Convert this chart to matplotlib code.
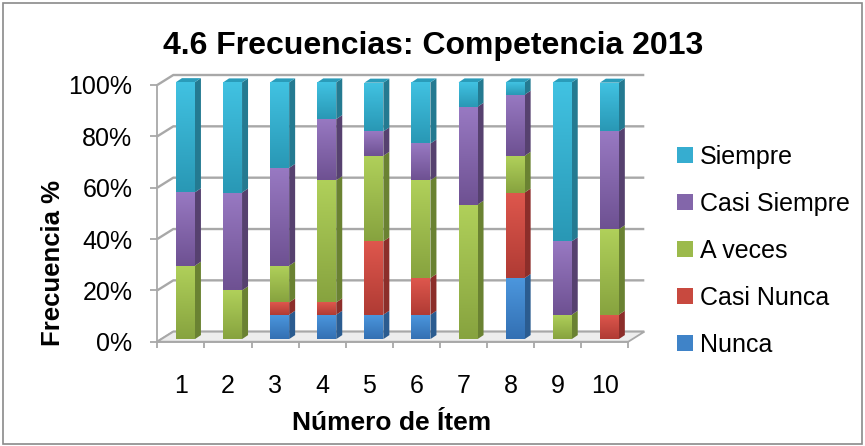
import numpy as np
import matplotlib.pyplot as plt
from matplotlib.patches import Polygon, Patch, Rectangle
from matplotlib.colors import LinearSegmentedColormap
from matplotlib.transforms import ScaledTranslation

plt.rcParams['font.family'] = ['Liberation Sans', 'DejaVu Sans']

# porcentaje de respuestas por ítem
items = ['1', '2', '3', '4', '5', '6', '7', '8', '9', '10']
series = ['Nunca', 'Casi Nunca', 'A veces', 'Casi Siempre', 'Siempre']
nunca = [0, 0, 9.5, 9.5, 9.5, 9.5, 0, 23.8, 0, 0]
casi_nunca = [0, 0, 4.8, 4.8, 28.6, 14.3, 0, 33.3, 0, 9.5]
a_veces = [28.6, 19.0, 14.3, 47.6, 33.3, 38.1, 52.4, 14.3, 9.5, 33.3]
casi_siempre = [28.6, 38.1, 38.1, 23.8, 9.5, 14.3, 38.1, 23.8, 28.6, 38.1]
siempre = [42.9, 42.9, 33.3, 14.3, 19.0, 23.8, 9.5, 4.8, 61.9, 19.0]
values = [nunca, casi_nunca, a_veces, casi_siempre, siempre]
y_ticks = [0, 20, 40, 60, 80, 100]
y_labels = ['0%', '20%', '40%', '60%', '80%', '100%']

# colores: claro (arriba), oscuro (abajo), cara lateral
light = ['#4c97de', '#de574d', '#b0d05a', '#9879c2', '#41c2e2']
dark = ['#3370b3', '#b03b34', '#87a33f', '#6e5192', '#2998b5']
side = ['#2b5c90', '#8c2e2a', '#6a8232', '#56416f', '#247a91']
mid = ['#3f83c8', '#c8493f', '#9cba4c', '#8366aa', '#36add0']

grid_c = '#a8a8a8'

fig = plt.figure(figsize=(8.65, 4.46), dpi=100)
ax = fig.add_axes([157.3 / 865, 1 - 341.7 / 446, 471 / 865, 256.7 / 446])
n = len(items)
ax.set_xlim(0, n)
ax.set_ylim(0, 100)
ax.patch.set_visible(False)
for k in ['top', 'right']:
    ax.spines[k].set_visible(False)
for k in ['left', 'bottom']:
    ax.spines[k].set_color(grid_c)
    ax.spines[k].set_linewidth(1.3)


def px(dx, dy):
    inv = ax.transData.inverted()
    return inv.transform((dx, dy)) - inv.transform((0, 0))


wall = px(16, 10)
depth = px(6, 4)
tb = ax.transData + ScaledTranslation(0.046, 0.026, fig.dpi_scale_trans)

# piso y paredes
floor = Polygon([(0, 0), (n, 0), (n + wall[0], wall[1]), (wall[0], wall[1])],
                closed=True, fc='#ededed', ec=grid_c, lw=1.3, clip_on=False, zorder=1)
ax.add_patch(floor)
for y in y_ticks:
    ax.plot([0, wall[0], n + wall[0]], [y, y + wall[1], y + wall[1]],
            color=grid_c, lw=1.7, clip_on=False, zorder=0.5, solid_capstyle='butt')

# barras apiladas con degradado
x = np.arange(n) + 0.5
w = 0.403
bottom = np.zeros(n)
for k, vals in enumerate(values):
    vals = np.array(vals, dtype=float)
    bars = ax.bar(x, vals, w, bottom=bottom, color=dark[k], lw=0,
                  transform=tb, zorder=3, clip_on=False)
    cmap = LinearSegmentedColormap.from_list('g%d' % k, [dark[k], light[k]])
    for rect, v, b in zip(bars, vals, bottom):
        if v <= 0:
            continue
        xl = rect.get_x()
        xr = xl + rect.get_width()
        im = ax.imshow(np.linspace(0, 1, 64).reshape(-1, 1), cmap=cmap,
                       extent=[xl, xr, b, b + v], origin='lower', aspect='auto',
                       transform=tb, zorder=3.1, interpolation='bilinear')
        im.set_clip_path(rect)
        ax.add_patch(Polygon([(xr, b), (xr + depth[0], b + depth[1]),
                              (xr + depth[0], b + v + depth[1]), (xr, b + v)],
                             closed=True, fc=side[k], lw=0, transform=tb,
                             zorder=3, clip_on=False))
        if k == len(values) - 1:
            t = b + v
            ax.add_patch(Polygon([(xl, t), (xr, t), (xr + depth[0], t + depth[1]),
                                  (xl + depth[0], t + depth[1])],
                                 closed=True, fc='#2a9cba', lw=0, transform=tb,
                                 zorder=3, clip_on=False))
    bottom += vals

ax.set_xlim(0, n)
ax.set_ylim(0, 100)

ax.set_yticks(y_ticks)
ax.set_yticklabels(y_labels, fontsize=18)
ax.tick_params(axis='y', length=5, width=1.3, color=grid_c, pad=13)
ax.set_xticks(x)
ax.set_xticklabels(items, fontsize=18)
ax.set_xticks(np.arange(n + 1), minor=True)
ax.tick_params(axis='x', which='major', length=0, pad=23)
ax.tick_params(axis='x', which='minor', length=4.5, width=1.3, color=grid_c)

handles = [Patch(fc=c, ec='none') for c in mid][::-1]
fig.legend(handles, series[::-1], loc='center left',
           bbox_to_anchor=(677 / 865, 1 - 251 / 446), frameon=False, fontsize=18,
           borderpad=0, borderaxespad=0,
           handlelength=0.62, handleheight=0.62, handletextpad=0.3, labelspacing=0.92)

fig.text(433 / 865, 1 - 46 / 446, '4.6 Frecuencias: Competencia 2013',
         ha='center', va='center', fontsize=23, fontweight='bold')
fig.text(53 / 865, 1 - 263 / 446, 'Frecuencia %', rotation=90,
         ha='center', va='center', fontsize=18.5, fontweight='bold')
fig.text(392 / 865, 1 - 423 / 446, 'Número de Ítem',
         ha='center', va='center', fontsize=19, fontweight='bold')

fig.add_artist(Rectangle((0.003, 0.004), 0.994, 0.99, transform=fig.transFigure,
                         fill=False, ec='#8a8a8a', lw=1.2))

fig.savefig('out.png', dpi=100)
